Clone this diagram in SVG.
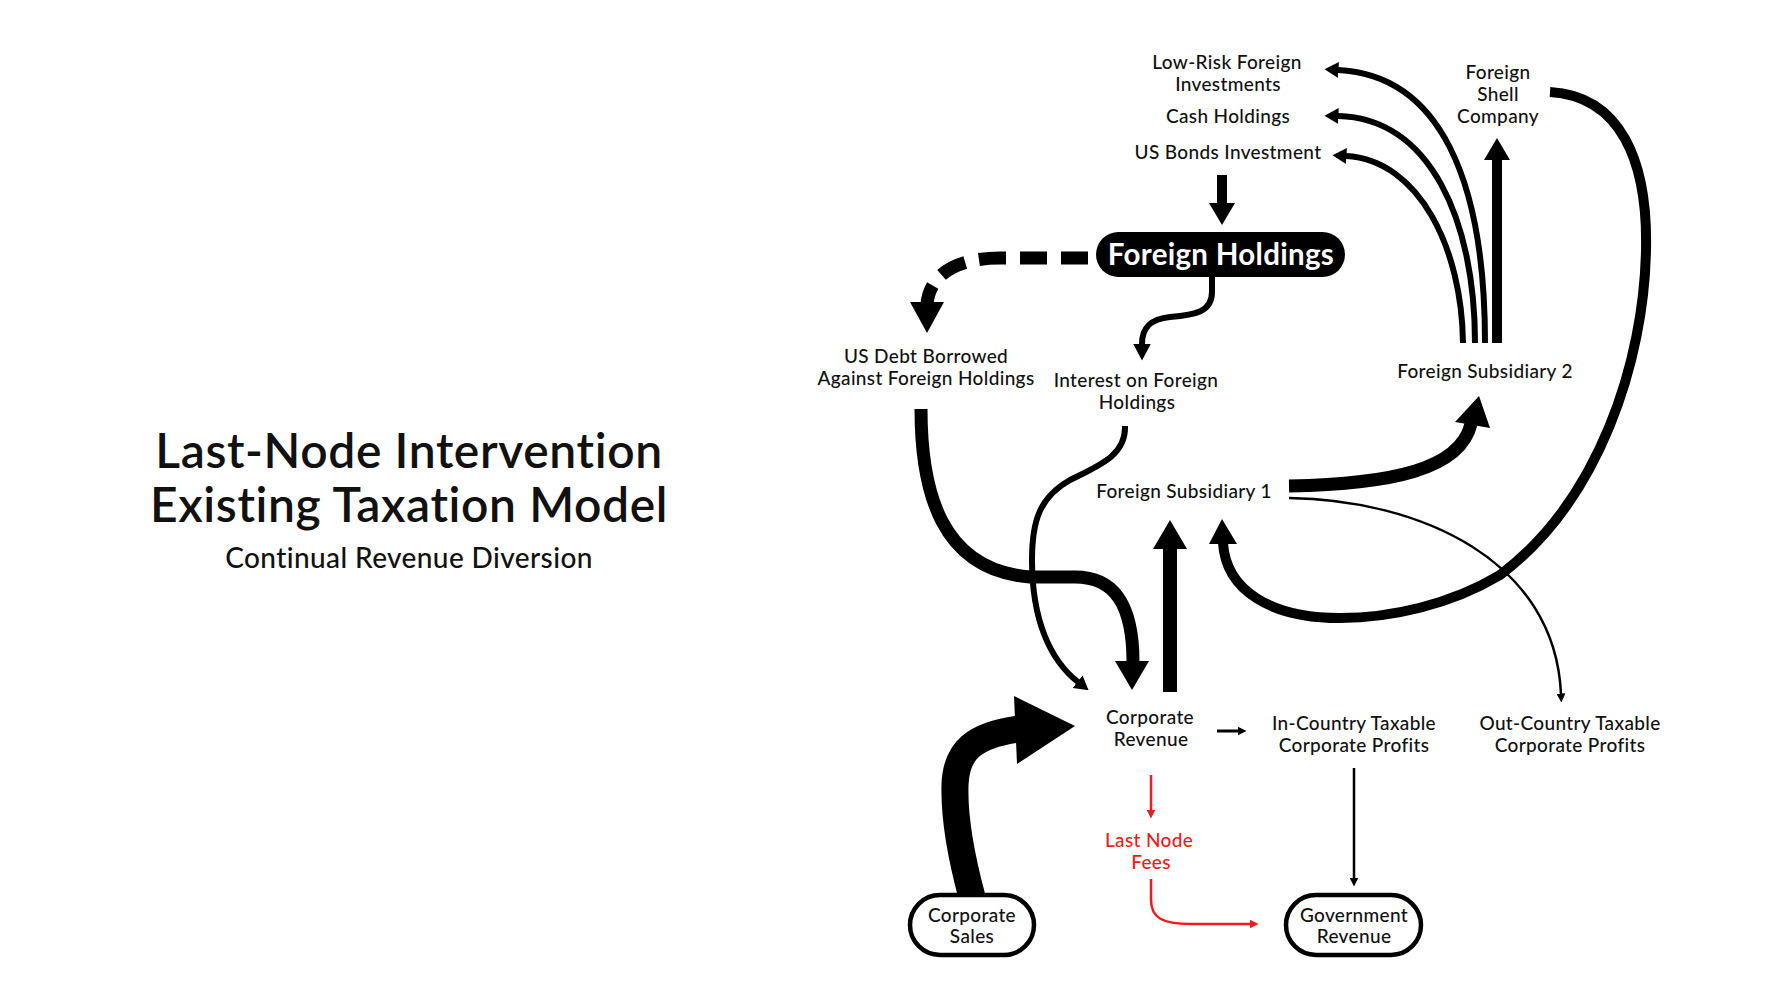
<svg xmlns="http://www.w3.org/2000/svg" width="1778" height="1000" viewBox="0 0 1778 1000">
<style>
text{font-family:Lato,"Liberation Sans",sans-serif;fill:#111;text-anchor:middle;font-variant-ligatures:none}
.lbl{font-size:19px;font-weight:500;letter-spacing:0.35px}
.red{fill:#ee1c1c}
.title{font-size:48px;font-weight:600;letter-spacing:0.6px}
.sub{font-size:28px;font-weight:500;letter-spacing:0.4px}
.fh{font-size:29.5px;font-weight:700;fill:#fff;letter-spacing:0.3px}
.ln{fill:none;stroke:#000}
.rl{fill:none;stroke:#ee1c1c;stroke-width:2.5}
.pill{fill:#fff;stroke:#000;stroke-width:4.5}
</style>
<defs>
<marker id="hm" markerUnits="userSpaceOnUse" markerWidth="14" markerHeight="16" refX="0.5" refY="8" orient="auto"><path d="M0,0 L14,8 L0,16 z" fill="#000"/></marker>
<marker id="hl" markerUnits="userSpaceOnUse" markerWidth="17" markerHeight="18" refX="0.5" refY="9" orient="auto"><path d="M0,0 L17,9 L0,18 z" fill="#000"/></marker>
<marker id="hs" markerUnits="userSpaceOnUse" markerWidth="9" markerHeight="9" refX="0.5" refY="4.5" orient="auto"><path d="M0,0 L9,4.5 L0,9 z" fill="#000"/></marker>
<marker id="hr" markerUnits="userSpaceOnUse" markerWidth="9" markerHeight="9" refX="0.5" refY="4.5" orient="auto"><path d="M0,0 L9,4.5 L0,9 z" fill="#ee1c1c"/></marker>
</defs>
<rect width="1778" height="1000" fill="#fff"/>

<g id="title">
<text class="title" x="409" y="468">Last-Node Intervention</text>
<text class="title" x="409" y="522">Existing Taxation Model</text>
<text class="sub" x="409" y="568">Continual Revenue Diversion</text>
</g>

<g id="connectors">
<!-- US Bonds -> Foreign Holdings -->
<path class="ln" d="M1222 175 L1222 204" stroke-width="10"/>
<polygon points="1209,203 1235,203 1222,225"/>
<!-- Foreign Holdings -> US Debt (dashed) -->
<path class="ln" d="M1088 258 L1000 258 C960 258 930 272 927 304" stroke-width="13" stroke-dasharray="27 14"/>
<polygon points="910,302 944,302 927,333"/>
<!-- Foreign Holdings -> Interest -->
<path class="ln" d="M1212 277 L1212 292 C1212 312 1195 315 1170 317 C1150 319 1142 328 1142 344" stroke-width="6" marker-end="url(#hl)"/>
<!-- US Debt -> Corporate Revenue -->
<path class="ln" d="M921 409 C921 490 940 570 1030 577 L1075 577 C1115 577 1133 605 1133 662" stroke-width="13"/>
<polygon points="1115,661 1149,661 1132,690"/>
<!-- Interest -> Corporate Revenue -->
<path class="ln" d="M1125 426 C1126 455 1100 465 1070 480 C1040 497 1032 520 1032 560 C1032 620 1050 660 1078 682" stroke-width="6" marker-end="url(#hm)"/>
<!-- Corporate Revenue -> FS1 -->
<path class="ln" d="M1170 692 L1170 547" stroke-width="14"/>
<polygon points="1153,549 1187,549 1170,520"/>
<!-- FS1 -> FS2 -->
<path class="ln" d="M1289 486 C1390 484 1460 470 1471 424" stroke-width="13"/>
<polygon points="1455,422 1490,428 1479,396"/>
<!-- FS1 -> Out-Country -->
<path class="ln" d="M1289 498 C1420 500 1555 560 1561 694" stroke-width="2.5" marker-end="url(#hs)"/>
<!-- FS2 -> Low-Risk, Cash, US Bonds -->
<path class="ln" d="M1485 343 C1485 180 1440 75 1338 70" stroke-width="6" marker-end="url(#hm)"/>
<path class="ln" d="M1475 343 C1475 220 1430 118 1338 116" stroke-width="6" marker-end="url(#hm)"/>
<path class="ln" d="M1463 343 C1462 250 1420 160 1346 156" stroke-width="6" marker-end="url(#hm)"/>
<!-- FS2 -> Shell -->
<path class="ln" d="M1497 343 L1497 158" stroke-width="10"/>
<polygon points="1484,160 1510,160 1497,138"/>
<!-- Shell -> FS1 loop -->
<path class="ln" d="M1550 92 C1620 96 1648 160 1646 250 C1644 360 1600 500 1500 575 C1450 605 1390 618 1340 618 C1270 618 1226 590 1223 543" stroke-width="10"/>
<polygon points="1209,544 1237,544 1222,519"/>
<!-- Corporate Sales -> Corporate Revenue -->
<path class="ln" d="M972 897 C962 860 954 820 955 785 C956 750 975 735 1018 729" stroke-width="27"/>
<polygon points="1014,696 1075,726 1017,764"/>
<!-- Corporate Revenue -> In-Country -->
<path class="ln" d="M1217 731 L1238 731" stroke-width="3" marker-end="url(#hs)"/>
<!-- In-Country -> Government Revenue -->
<path class="ln" d="M1354 768 L1354 878" stroke-width="2.5" marker-end="url(#hs)"/>
<!-- Corporate Revenue -> Last Node Fees -->
<path class="rl" d="M1151 775 L1151 810" marker-end="url(#hr)"/>
<!-- Last Node Fees -> Government Revenue -->
<path class="rl" d="M1151 879 L1151 900 C1151 918 1163 924 1190 924 L1250 924" marker-end="url(#hr)"/>
</g>

<g id="low-risk"><text class="lbl" x="1227" y="69">Low-Risk Foreign</text><text class="lbl" x="1228" y="91">Investments</text></g>
<g id="cash"><text class="lbl" x="1228" y="123">Cash Holdings</text></g>
<g id="us-bonds"><text class="lbl" x="1228" y="159">US Bonds Investment</text></g>
<g id="shell"><text class="lbl" x="1498" y="79">Foreign</text><text class="lbl" x="1498" y="101">Shell</text><text class="lbl" x="1498" y="123">Company</text></g>
<g id="foreign-holdings"><rect x="1096" y="232" width="249" height="45" rx="22.5" fill="#000"/><text class="fh" x="1221" y="265">Foreign Holdings</text></g>
<g id="us-debt"><text class="lbl" x="926" y="363">US Debt Borrowed</text><text class="lbl" x="926" y="385">Against Foreign Holdings</text></g>
<g id="interest"><text class="lbl" x="1136" y="387">Interest on Foreign</text><text class="lbl" x="1137" y="409">Holdings</text></g>
<g id="fs2"><text class="lbl" x="1485" y="378">Foreign Subsidiary 2</text></g>
<g id="fs1"><text class="lbl" x="1184" y="498">Foreign Subsidiary 1</text></g>
<g id="corp-revenue"><text class="lbl" x="1150" y="724">Corporate</text><text class="lbl" x="1151" y="746">Revenue</text></g>
<g id="in-country"><text class="lbl" x="1354" y="730">In-Country Taxable</text><text class="lbl" x="1354" y="752">Corporate Profits</text></g>
<g id="out-country"><text class="lbl" x="1570" y="730">Out-Country Taxable</text><text class="lbl" x="1570" y="752">Corporate Profits</text></g>
<g id="last-node"><text class="lbl red" x="1149" y="847">Last Node</text><text class="lbl red" x="1151" y="869">Fees</text></g>
<g id="corp-sales"><rect class="pill" x="910" y="895" width="124" height="60" rx="30"/><text class="lbl" x="972" y="922">Corporate</text><text class="lbl" x="972" y="943">Sales</text></g>
<g id="gov-revenue"><rect class="pill" x="1286" y="895" width="135" height="60" rx="30"/><text class="lbl" x="1354" y="922">Government</text><text class="lbl" x="1354" y="943">Revenue</text></g>
</svg>
